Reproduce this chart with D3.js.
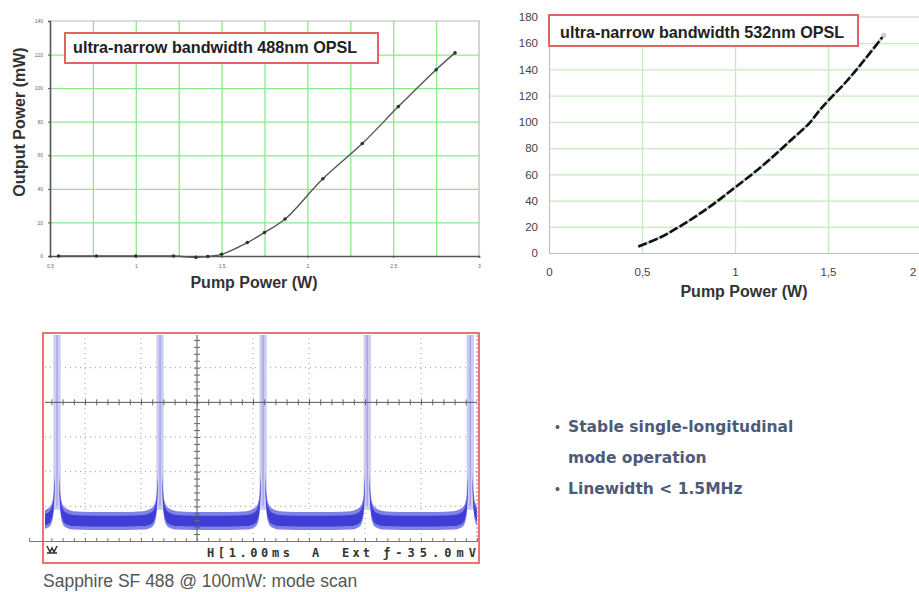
<!DOCTYPE html>
<html>
<head>
<meta charset="utf-8">
<script src="https://cdn.jsdelivr.net/npm/d3@7"></script>
<style>
body { margin: 0; background: #fff; }
</style>
</head>
<body>
<div class="container"></div>
<script>
// 488nm OPSL: output power (mW) vs pump power (W)
const pump488 = [0.55, 0.77, 1.0, 1.22, 1.35, 1.42, 1.5, 1.65, 1.75, 1.87, 2.09, 2.32, 2.53, 2.75, 2.86];
const out488 = [0, 0, 0, 0, -0.8, -0.3, 1, 8, 14, 22, 46, 67, 89, 111, 121];
const xTicks488 = [0.5, 1, 1.5, 2, 2.5, 3];
const yTicks488 = [0, 20, 40, 60, 80, 100, 120, 140];

// 532nm OPSL
const pump532 = [0.48, 0.6, 0.7, 0.8, 0.9, 1.0, 1.1, 1.2, 1.3, 1.4, 1.45, 1.5, 1.6, 1.7, 1.8];
const out532 = [5, 12, 20, 29, 39, 50, 61, 73, 86, 99, 108, 116, 131, 148, 166];
const xTicks532 = [0, 0.5, 1, 1.5, 2];
const yTicks532 = [0, 20, 40, 60, 80, 100, 120, 140, 160, 180];

// mode scan (time in ms, level in screen divisions)
const scopePeaks = [0.5, 2.34, 4.18, 6.04, 7.88];
const shapeOffset = [0.6, 0.3, 0.15, 0.09, 0.06, 0.04];
const outerHi = [0.84, 0.86, 0.95, 1.1, 1.4, 2.0];
const outerLo = [0.32, 0.33, 0.4, 0.55, 0.85, 1.5];
const innerHi = [0.73, 0.75, 0.83, 0.98, 1.25, 1.8];
const innerLo = [0.42, 0.43, 0.5, 0.66, 0.95, 1.6];

const bullets = ["Stable single-longitudinal", "mode operation", "Linewidth < 1.5MHz"];

const sans = '"Liberation Sans", Arial, sans-serif';
const svg = d3.select('.container').append('svg').attr('width', 919).attr('height', 592)
    .style('font-family', sans);

// ---------------- chart 1 ----------------
const x1 = d3.scaleLinear().domain([0.5, 3]).range([50, 479]);
const y1 = d3.scaleLinear().domain([0, 140]).range([256, 21]);
const g1 = svg.append('g');

// green grid
g1.append('g').attr('transform', 'translate(0,256)')
    .call(d3.axisBottom(x1).tickValues(d3.range(0.75, 2.8, 0.25)).tickSize(-235).tickFormat(''))
    .call(g => g.select('.domain').remove())
    .selectAll('line').attr('stroke', '#8be88b').attr('stroke-width', 1.3);
g1.append('g').attr('transform', 'translate(50,0)')
    .call(d3.axisLeft(y1).tickValues(yTicks488.slice(1, -1)).tickSize(-429).tickFormat(''))
    .call(g => g.select('.domain').remove())
    .selectAll('line').attr('stroke', '#8be88b').attr('stroke-width', 1.3);

// frame
g1.append('path').attr('d', `M50,21H479V256`).attr('fill', 'none').attr('stroke', '#b8b8b8').attr('stroke-width', 1.2);

let ax1 = g1.append('g').attr('transform', 'translate(0,256)')
    .call(d3.axisBottom(x1).tickValues(xTicks488).tickSize(2).tickPadding(6).tickFormat(d3.format('~g')));
let ay1 = g1.append('g').attr('transform', 'translate(50,0)')
    .call(d3.axisLeft(y1).tickValues(yTicks488).tickSize(2).tickPadding(5));
[ax1, ay1].forEach(a => {
    a.select('.domain').attr('stroke', '#555').attr('stroke-width', 1.6);
    a.selectAll('line').attr('stroke', '#555');
    a.selectAll('text').style('font-family', sans).attr('font-size', '5px').attr('fill', '#666');
});

let line1 = d3.line().curve(d3.curveCatmullRom).x(d => x1(d[0])).y(d => y1(d[1]));
let pts488 = pump488.map((p, i) => [p, out488[i]]);
g1.append('path').datum(pts488).attr('d', line1).attr('fill', 'none').attr('stroke', '#555').attr('stroke-width', 1.4);
g1.selectAll('circle').data(pts488).enter().append('circle')
    .attr('cx', d => x1(d[0])).attr('cy', d => y1(d[1])).attr('r', 1.8).attr('fill', '#333');

g1.append('rect').attr('x', 65).attr('y', 33).attr('width', 313).attr('height', 30)
    .attr('fill', '#fff').attr('stroke', '#e06464').attr('stroke-width', 2);
g1.append('text').attr('x', 73).attr('y', 53).attr('font-size', '16.2px').attr('font-weight', 'bold').attr('fill', '#222')
    .text('ultra-narrow bandwidth 488nm OPSL');
g1.append('text').attr('transform', 'translate(25,122) rotate(-90)').attr('text-anchor', 'middle')
    .attr('font-size', '16px').attr('font-weight', 'bold').attr('fill', '#333').text('Output Power (mW)');
g1.append('text').attr('x', 254).attr('y', 288).attr('text-anchor', 'middle')
    .attr('font-size', '16px').attr('font-weight', 'bold').attr('fill', '#333').text('Pump Power (W)');

// ---------------- chart 2 ----------------
const x2 = d3.scaleLinear().domain([0, 2]).range([549, 921]);
const y2 = d3.scaleLinear().domain([0, 180]).range([253, 17]);
const g2 = svg.append('g');
const comma = d3.formatLocale({decimal: ',', thousands: '.', grouping: [3], currency: ['', '']}).format('~g');

g2.append('g').attr('transform', 'translate(0,253)')
    .call(d3.axisBottom(x2).tickValues(xTicks532.slice(1, -1)).tickSize(-236).tickFormat(''))
    .call(g => g.select('.domain').remove())
    .selectAll('line').attr('stroke', '#c4ecbc').attr('stroke-width', 1.3);
g2.append('g').attr('transform', 'translate(549,0)')
    .call(d3.axisLeft(y2).tickValues(yTicks532.slice(1, -1)).tickSize(-372).tickFormat(''))
    .call(g => g.select('.domain').remove())
    .selectAll('line').attr('stroke', '#c4ecbc').attr('stroke-width', 1.3);
g2.append('line').attr('x1', 549).attr('x2', 919).attr('y1', 17).attr('y2', 17).attr('stroke', '#c8c8c8');

let ax2 = g2.append('g').attr('transform', 'translate(0,253)')
    .call(d3.axisBottom(x2).tickValues(xTicks532).tickSize(0).tickPadding(15).tickFormat(comma));
let ay2 = g2.append('g').attr('transform', 'translate(549,0)')
    .call(d3.axisLeft(y2).tickValues(yTicks532).tickSize(0).tickPadding(11));
[ax2, ay2].forEach(a => {
    a.select('.domain').attr('stroke', '#c0c0c0').attr('stroke-width', 1.2);
    a.selectAll('text').style('font-family', sans).attr('font-size', '11.5px').attr('fill', '#444');
});
// last label sits on the picture edge: keep it inside
ax2.selectAll('.tick').filter(d => d == 2).select('text').attr('text-anchor', 'end').attr('dx', '-5');

let line2 = d3.line().curve(d3.curveCatmullRom).x(d => x2(d[0])).y(d => y2(d[1]));
let pts532 = pump532.map((p, i) => [p, out532[i]]);
g2.append('path').datum(pts532).attr('d', line2).attr('fill', 'none').attr('stroke', '#b8c4c4').attr('stroke-width', 2.6);
g2.append('path').datum(pts532).attr('d', line2).attr('fill', 'none').attr('stroke', '#111').attr('stroke-width', 2.6)
    .attr('stroke-dasharray', '9 2.5');
g2.append('circle').attr('cx', x2(pump532[pump532.length - 1])).attr('cy', y2(out532[out532.length - 1]))
    .attr('r', 2.5).attr('fill', '#ccc');

g2.append('rect').attr('x', 549).attr('y', 15).attr('width', 309).attr('height', 31)
    .attr('fill', '#fff').attr('stroke', '#e06464').attr('stroke-width', 2);
g2.append('text').attr('x', 560).attr('y', 38).attr('font-size', '16.2px').attr('font-weight', 'bold').attr('fill', '#222')
    .text('ultra-narrow bandwidth 532nm OPSL');
g2.append('text').attr('x', 744).attr('y', 297).attr('text-anchor', 'middle')
    .attr('font-size', '16px').attr('font-weight', 'bold').attr('fill', '#333').text('Pump Power (W)');

// ---------------- scope ----------------
const xs = d3.scaleLinear().domain([0, 8]).range([29, 477]);
const ys = d3.scaleLinear().domain([0, 6]).range([541, 333]);
const g3 = svg.append('g');

g3.append('rect').attr('x', 43).attr('y', 333).attr('width', 436).attr('height', 230)
    .attr('fill', '#fff').attr('stroke', '#e87474').attr('stroke-width', 2);
svg.append('clipPath').attr('id', 'screen').append('rect').attr('x', 45).attr('y', 335).attr('width', 432).attr('height', 206);
const scr = g3.append('g').attr('clip-path', 'url(#screen)');

// dotted divisions
scr.selectAll('.vgrid').data([1, 2, 4, 5, 6, 7]).enter().append('line')
    .attr('x1', d => xs(d)).attr('x2', d => xs(d)).attr('y1', 333).attr('y2', 541)
    .attr('stroke', '#999').attr('stroke-dasharray', '1 4');
scr.selectAll('.hgrid').data([1, 2, 3, 5]).enter().append('line')
    .attr('y1', d => ys(d)).attr('y2', d => ys(d)).attr('x1', 45).attr('x2', 477)
    .attr('stroke', '#999').attr('stroke-dasharray', '1 4');

// peak halos
scopePeaks.forEach(p => {
    scr.append('rect').attr('x', xs(p - 0.065)).attr('y', 333).attr('width', xs(p + 0.065) - xs(p - 0.065))
        .attr('height', ys(0.9) - 333).attr('fill', '#cdcdf2');
    scr.append('line').attr('x1', xs(p)).attr('x2', xs(p)).attr('y1', 333).attr('y2', ys(1.0))
        .attr('stroke', '#a6a6e8').attr('stroke-width', 1.5);
});

// noise band
let band = [];
scopePeaks.forEach(p => {
    shapeOffset.forEach((o, i) => band.push({t: p - o, i: i}));
    band.push({t: p, gap: true});
    for (let i = shapeOffset.length - 1; i >= 0; i--) band.push({t: p + shapeOffset[i], i: i});
});
scr.append('path').datum(band).attr('fill', '#8080e8')
    .attr('d', d3.area().defined(d => !d.gap).curve(d3.curveMonotoneX).x(d => xs(d.t))
        .y0(d => ys(outerLo[d.i])).y1(d => ys(outerHi[d.i])));
scr.append('path').datum(band).attr('fill', '#3e3ed4')
    .attr('d', d3.area().defined(d => !d.gap).curve(d3.curveMonotoneX).x(d => xs(d.t))
        .y0(d => ys(innerLo[d.i])).y1(d => ys(innerHi[d.i])));

// centre cross with minor ticks
scr.append('line').attr('x1', 45).attr('x2', 477).attr('y1', ys(4)).attr('y2', ys(4)).attr('stroke', '#555');
scr.append('line').attr('x1', xs(3)).attr('x2', xs(3)).attr('y1', 333).attr('y2', 541).attr('stroke', '#555');
scr.append('g').attr('transform', `translate(0,${ys(4) - 3})`)
    .call(d3.axisBottom(xs).tickValues(d3.range(0, 8.01, 0.2)).tickSize(6).tickFormat(''))
    .call(g => g.select('.domain').remove())
    .selectAll('line').attr('stroke', '#666');
scr.append('g').attr('transform', `translate(${xs(3) - 3},0)`)
    .call(d3.axisRight(ys).tickValues(d3.range(0, 6.01, 0.2)).tickSize(6).tickFormat(''))
    .call(g => g.select('.domain').remove())
    .selectAll('line').attr('stroke', '#666');
// bottom edge
g3.append('g').attr('transform', `translate(0,${ys(0)})`)
    .call(d3.axisTop(xs).tickValues(d3.range(0.4, 8.01, 0.2)).tickSize(3).tickFormat(''))
    .call(g => g.select('.domain').attr('stroke', '#777'))
    .selectAll('line').attr('stroke', '#777');
g3.append('line').attr('x1', xs(8)).attr('x2', xs(8)).attr('y1', 335).attr('y2', 541)
    .attr('stroke', '#888').attr('stroke-dasharray', '2 2');

// status line
g3.append('path').attr('d', 'M47,546 l3,6 l2,-4 l2,4 l3,-6 M47,553 h10').attr('fill', 'none').attr('stroke', '#333').attr('stroke-width', 1.5);
const status = [['H[1.00ms', 207, 83], ['A', 312, 9], ['Ext', 342, 28], ['ƒ-35.0mV', 383, 93]];
status.forEach(s => {
    g3.append('text').attr('x', s[1]).attr('y', 557).style('font-family', '"DejaVu Sans Mono", monospace')
        .attr('font-size', '12px').attr('font-weight', 'bold').attr('fill', '#333')
        .attr('textLength', s[2]).attr('lengthAdjust', 'spacing').text(s[0]);
});

svg.append('text').attr('x', 43).attr('y', 587).attr('font-size', '17.5px').attr('fill', '#555')
    .text('Sapphire SF 488 @ 100mW: mode scan');

// ---------------- bullets ----------------
const bulletY = [432, 463, 494];
bullets.forEach((b, i) => {
    if (i != 1) svg.append('text').attr('x', 555).attr('y', bulletY[i]).attr('font-size', '14px')
        .attr('fill', '#4d5b78').text('•');
    svg.append('text').attr('x', 568).attr('y', bulletY[i]).style('font-family', '"DejaVu Sans", sans-serif')
        .attr('font-size', '15.5px').attr('font-weight', 'bold').attr('fill', '#4d5b78').text(b);
});
</script>
</body>
</html>
